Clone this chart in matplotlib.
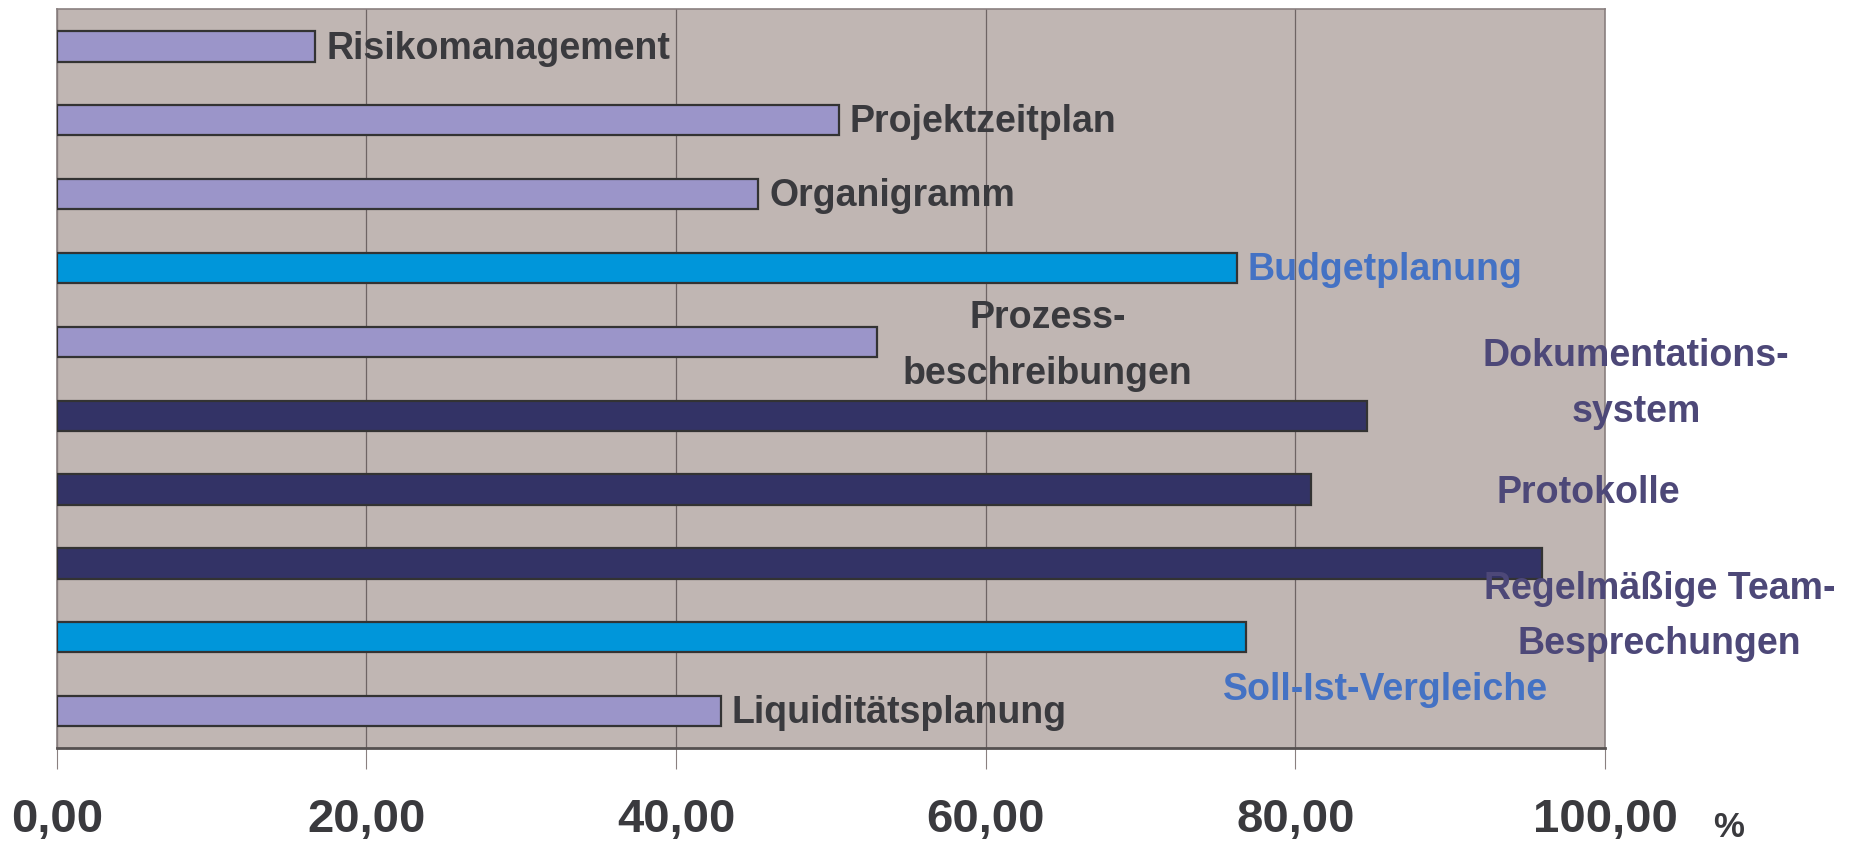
import matplotlib
matplotlib.use("Agg")
import matplotlib.pyplot as plt
import numpy as np

# ---------------------------------------------------------------- #
#                            DATEN
# ---------------------------------------------------------------- #
kategorien = [
    "Risikomanagement", "Projektzeitplan", "Organigramm", "Budgetplanung",
    "Prozess-\nbeschreibungen", "Dokumentations-\nsystem", "Protokolle",
    "Regelmäßige Team-\nBesprechungen", "Soll-Ist-Vergleiche", "Liquiditätsplanung",
]
werte = [16.7, 50.5, 45.3, 76.2, 53.0, 84.6, 81.0, 95.9, 76.8, 42.9]
gruppe = ["hell", "hell", "hell", "blau", "hell", "dunkel", "dunkel", "dunkel", "blau", "hell"]
x_ticks = [0, 20, 40, 60, 80, 100]
x_ticklabels = ["0,00", "20,00", "40,00", "60,00", "80,00", "100,00"]

# ---------------------------------------------------------------- #
#                            STIL
# ---------------------------------------------------------------- #
plt.rcParams["font.family"] = ["Liberation Sans Narrow", "Liberation Sans", "DejaVu Sans"]
plt.rcParams["font.weight"] = "bold"

farben_balken = {"hell": "#9b95c9", "blau": "#0096da", "dunkel": "#333366"}
farben_text = {"hell": "#3a3a3e", "blau": "#4472c4", "dunkel": "#4d4878"}

# Beschriftungsposition: (x, ha) - None heißt rechts neben dem Balken
label_pos = [None, None, None, None, (64.0, "center"), (102.0, "center"),
             (98.9, "center"), (103.5, "center"), (85.8, "center"), None]
label_dy = [0.03, 0.03, 0.03, 0.03, 0.06, -0.43, 0.05, 0.72, 0.72, 0.03]

fig = plt.figure(figsize=(18.56, 8.59), dpi=100)
ax = fig.add_axes([0.0306, 0.1292, 0.8342, 0.8598])
ax.set_facecolor("#c0b6b3")

y = np.arange(len(kategorien))
ax.barh(y, werte, height=0.41,
        color=[farben_balken[g] for g in gruppe],
        edgecolor="#333333", linewidth=1.6, zorder=3)

ax.set_xlim(0, 100)
ax.set_ylim(len(kategorien) - 0.5, -0.5)
ax.set_xticks(x_ticks)
ax.set_xticklabels(x_ticklabels, fontsize=34, color="#3a3a3e", fontweight="bold")
ax.set_yticks([])
ax.grid(axis="x", color="#6e6464", linewidth=0.9, zorder=1)
ax.tick_params(axis="x", length=15, width=0.8, color="#8a8080", pad=21, direction="out")

for s in ["left", "top", "right"]:
    ax.spines[s].set_color("#8a8080")
    ax.spines[s].set_linewidth(1.2)
ax.spines["bottom"].set_color("#555050")
ax.spines["bottom"].set_linewidth(2)

# ---------------------------------------------------------------- #
#                        BESCHRIFTUNGEN
# ---------------------------------------------------------------- #
for i, (text, wert, g) in enumerate(zip(kategorien, werte, gruppe)):
    pos = label_pos[i]
    if pos is None:
        tx, ha = wert + 0.7, "left"
    else:
        tx, ha = pos
    ax.text(tx, i + label_dy[i], text, fontsize=27, fontweight="bold",
            color=farben_text[g], ha=ha, va="center", ma="center",
            linespacing=1.7, clip_on=False, zorder=5)

fig.text(0.923, 0.037, "%", fontsize=25, fontweight="bold", color="#3a3a3e",
         ha="left", va="center")

fig.savefig("out.png", dpi=100, facecolor="white")
